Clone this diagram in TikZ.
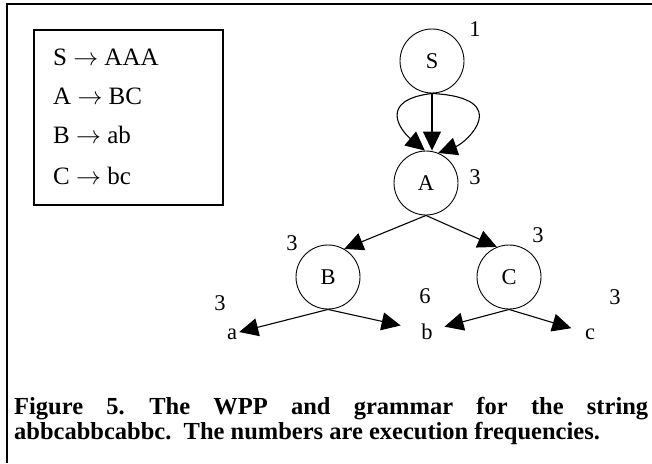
\documentclass[tikz,border=0pt]{standalone}
\usepackage{fontspec}
\setmainfont{Liberation Serif}
\usetikzlibrary{arrows.meta}

\begin{document}
\begin{tikzpicture}[x=1pt, y=1pt,
    state/.style={draw, circle, minimum size=64pt, inner sep=0pt, line width=0.9pt, font=\fontsize{22.5}{22.5}\selectfont},
    count/.style={inner sep=0pt, font=\fontsize{22.5}{22.5}\selectfont},
    leaf/.style={anchor=base, inner sep=2pt, font=\fontsize{22.5}{22.5}\selectfont},
    rule/.style={anchor=base west, inner sep=0pt, font=\fontsize{25}{25}\selectfont},
    edge/.style={line width=1.1pt, -{Triangle[length=19pt, width=18pt]}}]
    \useasboundingbox (0,0) rectangle (652,-463);
    \draw[line width=1.2pt] (7,-463) -- (7,-4) -- (652,-4);

    % grammar
    \node[draw, line width=1.1pt, minimum width=189pt, minimum height=175pt, inner sep=0pt] (gram) at (128.5,-117.5) {};
    \node[rule] (rS) at (53,-65) {S $\rightarrow$ AAA};
    \node[rule] (rA) at (53,-104) {A $\rightarrow$ BC};
    \node[rule] (rB) at (53,-143) {B $\rightarrow$ ab};
    \node[rule] (rC) at (53,-184) {C $\rightarrow$ bc};

    % WPP
    \node[state] (S) at (432,-61) {S};
    \node[state] (A) at (426,-183) {A};
    \node[state] (B) at (328,-277) {B};
    \node[state] (C) at (509,-277) {C};
    \node[leaf] (la) at (232,-339) {a};
    \node[leaf] (lb) at (427,-339) {b};
    \node[leaf] (lc) at (590,-339) {c};

    \node[count] (nS) at (475,-29) {1};
    \node[count] (nA) at (475,-177) {3};
    \node[count] (nB) at (292,-243) {3};
    \node[count] (nC) at (538,-235) {3};
    \node[count] (na) at (220,-303) {3};
    \node[count] (nb) at (425,-296) {6};
    \node[count] (nc) at (615,-297) {3};

    \draw[edge] (S.south) .. controls (378,-100) and (400,-130) .. (A.92);
    \draw[edge] (S.south) -- (S.south |- A.north);
    \draw[edge] (S.south) .. controls (515,-98) and (466,-143) .. (A.68);
    \draw[edge] (A.south) -- (B.60);
    \draw[edge] (A.south) -- (C.112);
    \draw[edge] (B.south) -- (la);
    \draw[edge, shorten >=19pt] (B.south) -- (lb);
    \draw[edge, shorten >=10pt] (C.south) -- (lb);
    \draw[edge, shorten >=12pt] (C.south) -- (lc);

    % caption
    \node[anchor=base west, inner sep=0pt, font=\fontsize{24.5}{21}\selectfont\bfseries] (cap1) at (14,-414)
        {\makebox[634pt][s]{Figure 5.\quad The WPP and grammar for the string}};
    \node[anchor=base west, inner sep=0pt, font=\fontsize{24.5}{21}\selectfont\bfseries] (cap2) at (14,-439)
        {abbcabbcabbc.\ \ The numbers are execution frequencies.};
\end{tikzpicture}
\end{document}
